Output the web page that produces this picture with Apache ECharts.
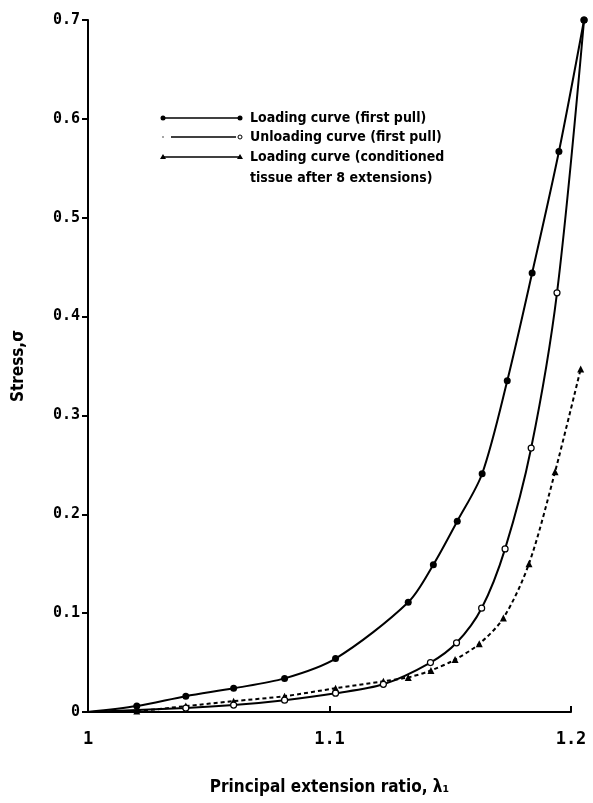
<!DOCTYPE html>
<html>
<head>
<meta charset="utf-8">
<script src="https://cdn.jsdelivr.net/npm/echarts@6/dist/echarts.min.js"></script>
<style>
  html, body { margin: 0; padding: 0; background: #fff; }
  #chart { width: 593px; height: 803px; }
</style>
</head>
<body>
<div id="chart"></div>
<script>
// values
var loadX = [1, 1.0202, 1.0405, 1.0603, 1.0814, 1.1025, 1.1326, 1.143, 1.1529, 1.1632, 1.1736, 1.1839, 1.195, 1.2054];
var loadY = [0, 0.006, 0.016, 0.024, 0.034, 0.054, 0.111, 0.149, 0.193, 0.241, 0.335, 0.444, 0.567, 0.70];

var unloadX = [1, 1.0405, 1.0603, 1.0814, 1.1025, 1.1223, 1.1418, 1.1526, 1.163, 1.1727, 1.1835, 1.1942, 1.2054];
var unloadY = [0, 0.004, 0.007, 0.012, 0.019, 0.028, 0.050, 0.070, 0.105, 0.165, 0.267, 0.424, 0.70];

var condX = [1, 1.0202, 1.0405, 1.0603, 1.0814, 1.1025, 1.1223, 1.1326, 1.142, 1.152, 1.162, 1.172, 1.1826, 1.1934, 1.204];
var condY = [0, 0.001, 0.006, 0.011, 0.016, 0.024, 0.031, 0.035, 0.042, 0.053, 0.069, 0.095, 0.150, 0.243, 0.347];

var legendLines = ['Loading curve (first pull)', 'Unloading curve (first pull)', 'Loading curve (conditioned', 'tissue after 8 extensions)'];

var font = 'DejaVu Sans Condensed';
var tickFont = 'DejaVu Sans Mono';

function pairs(xs, ys) {
    var out = [];
    for (var i = 0; i < xs.length; i++) {
        var p = { value: [xs[i], ys[i]] };
        if (i === 0) p.symbol = 'none'; // curve starts at origin, no marker
        out.push(p);
    }
    return out;
}

var myChart = echarts.init(document.getElementById('chart'));

// legend drawn like the original: a line with a marker at each end
var g = [];
var lx0 = 163, lx1 = 240, rows = [118, 137, 157];
g.push({ type: 'line', shape: { x1: lx0, y1: rows[0], x2: lx1, y2: rows[0] }, style: { stroke: '#000', lineWidth: 1.5 } });
g.push({ type: 'circle', shape: { cx: lx0, cy: rows[0], r: 2.5 }, style: { fill: '#000' } });
g.push({ type: 'circle', shape: { cx: lx1, cy: rows[0], r: 2.5 }, style: { fill: '#000' } });
g.push({ type: 'circle', shape: { cx: lx0, cy: rows[1], r: 1 }, style: { fill: '#888' } });
g.push({ type: 'line', shape: { x1: lx0 + 8, y1: rows[1], x2: lx1 - 4, y2: rows[1] }, style: { stroke: '#000', lineWidth: 1.5 } });
g.push({ type: 'circle', shape: { cx: lx1, cy: rows[1], r: 2 }, style: { fill: '#fff', stroke: '#000', lineWidth: 1 } });
g.push({ type: 'line', shape: { x1: lx0, y1: rows[2], x2: lx1, y2: rows[2] }, style: { stroke: '#000', lineWidth: 1.5 } });
g.push({ type: 'polygon', shape: { points: [[lx0 - 3, rows[2] + 2], [lx0 + 3, rows[2] + 2], [lx0, rows[2] - 3]] }, style: { fill: '#000' } });
g.push({ type: 'polygon', shape: { points: [[lx1 - 3, rows[2] + 2], [lx1 + 3, rows[2] + 2], [lx1, rows[2] - 3]] }, style: { fill: '#000' } });
var textY = [118, 137, 157, 178];
for (var i = 0; i < legendLines.length; i++) {
    g.push({
        type: 'text', x: 250, y: textY[i],
        style: {
            text: legendLines[i], fill: '#000', fontFamily: font, fontSize: 14,
            fontWeight: 'bold', verticalAlign: 'middle'
        }
    });
}

myChart.setOption({
    animation: false,
    backgroundColor: '#fff',
    // grid 0 holds the data (a little past 1.2, like the scan); grid 1 carries the drawn x axis
    grid: [
        { left: 88, right: 7.5, top: 20, bottom: 91, outerBoundsMode: 'none', containLabel: false },
        { left: 88, right: 22, top: 20, bottom: 91, outerBoundsMode: 'none', containLabel: false }
    ],
    xAxis: [{
        type: 'value', gridIndex: 0,
        min: 1, max: 1.206,
        axisLine: { show: false }, axisTick: { show: false },
        axisLabel: { show: false }, splitLine: { show: false }
    }, {
        type: 'value', gridIndex: 1,
        min: 1, max: 1.2, interval: 0.1,
        name: 'Principal extension ratio, \u03bb\u2081',
        nameLocation: 'middle', nameGap: 67,
        nameTextStyle: { fontFamily: font, fontSize: 17, fontWeight: 'bold', color: '#000' },
        axisLine: { lineStyle: { color: '#000', width: 2 } },
        axisTick: { inside: true, length: 6, lineStyle: { color: '#000', width: 2 } },
        axisLabel: {
            fontFamily: tickFont, fontSize: 17, fontWeight: 'bold', color: '#000', margin: 19,
            formatter: function (v) { return v === 1 ? '1' : v.toFixed(1); }
        },
        splitLine: { show: false }
    }],
    yAxis: [{
        type: 'value', gridIndex: 0,
        min: 0, max: 0.7, interval: 0.1,
        name: 'Stress,\u03c3',
        nameLocation: 'middle', nameGap: 61,
        nameTextStyle: { fontFamily: font, fontSize: 17, fontWeight: 'bold', color: '#000' },
        axisLine: { show: true, lineStyle: { color: '#000', width: 2 } },
        axisTick: { show: true, length: 6, lineStyle: { color: '#000', width: 2 } },
        axisLabel: {
            fontFamily: tickFont, fontSize: 15, fontWeight: 'bold', color: '#000', margin: 8,
            formatter: function (v) { return v === 0 ? '0' : v.toFixed(1); }
        },
        splitLine: { show: false }
    }, {
        type: 'value', gridIndex: 1,
        min: 0, max: 0.7, show: false
    }],
    graphic: g,
    series: [{
        name: 'Loading curve (conditioned tissue after 8 extensions)',
        type: 'line',
        smooth: 0.3,
        data: pairs(condX, condY),
        symbol: 'triangle', symbolSize: 7,
        itemStyle: { color: '#000' },
        lineStyle: { color: '#000', width: 2, type: [4, 3] }
    }, {
        name: 'Unloading curve (first pull)',
        type: 'line',
        smooth: 0.3,
        data: pairs(unloadX, unloadY),
        symbol: 'circle', symbolSize: 6,
        itemStyle: { color: '#fff', borderColor: '#000', borderWidth: 1.2 },
        lineStyle: { color: '#000', width: 2 }
    }, {
        name: 'Loading curve (first pull)',
        type: 'line',
        smooth: 0.3,
        data: pairs(loadX, loadY),
        symbol: 'circle', symbolSize: 7,
        itemStyle: { color: '#000' },
        lineStyle: { color: '#000', width: 2 }
    }]
});
</script>
</body>
</html>
